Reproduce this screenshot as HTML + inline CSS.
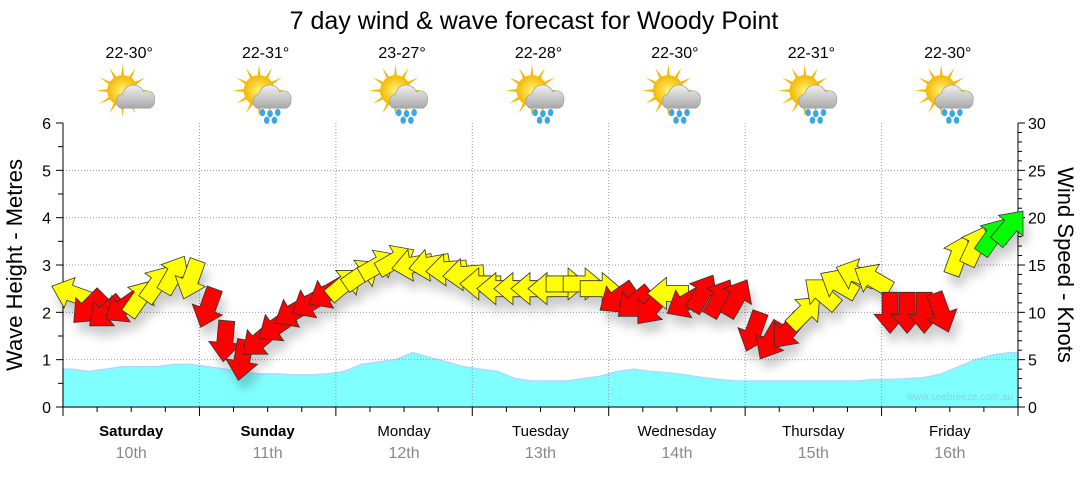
<!DOCTYPE html>
<html><head><meta charset="utf-8">
<style>
body{margin:0;background:#fff;font-family:"Liberation Sans",sans-serif;}
svg text{font-family:"Liberation Sans",sans-serif;}
</style></head>
<body>
<svg id="chart" width="1080" height="475" viewBox="0 0 1080 475">
<defs>
<radialGradient id="sun" cx="50%" cy="50%" r="50%"><stop offset="0" stop-color="#fff27a"/><stop offset="1" stop-color="#f5b800"/></radialGradient>
<linearGradient id="cloud" x1="0" y1="0" x2="0" y2="1"><stop offset="0" stop-color="#f0f0f0"/><stop offset="1" stop-color="#a8a8a8"/></linearGradient>
<filter id="shadow" x="-30%" y="-30%" width="160%" height="180%"><feGaussianBlur in="SourceAlpha" stdDeviation="5"/><feOffset dx="4" dy="10"/><feComponentTransfer><feFuncA type="linear" slope="0.2"/></feComponentTransfer><feMerge><feMergeNode/><feMergeNode in="SourceGraphic"/></feMerge></filter>
</defs>
<text x="534" y="29" font-size="25" text-anchor="middle" fill="#000">7 day wind &amp; wave forecast for Woody Point</text>
<g id="plot"></g>
</svg>
<script>
const days = ["Saturday","Sunday","Monday","Tuesday","Wednesday","Thursday","Friday"];
const dates = ["10th","11th","12th","13th","14th","15th","16th"];
const temps = ["22-30°","22-31°","23-27°","22-28°","22-30°","22-31°","22-30°"];
const rain = [false,true,true,true,true,true,true];
const waveHeights = [0.8,0.75,0.8,0.85,0.85,0.85,0.9,0.9, 0.85,0.8,0.75,0.7,0.7,0.68,0.68,0.7, 0.75,0.9,0.95,1.0,1.15,1.05,0.95,0.85, 0.8,0.75,0.6,0.55,0.55,0.55,0.6,0.65, 0.75,0.8,0.75,0.72,0.68,0.62,0.58,0.55, 0.55,0.55,0.55,0.55,0.55,0.55,0.55,0.58, 0.58,0.6,0.62,0.7,0.85,1.0,1.1,1.15];
const windSpeeds = [12,10.5,10,10.5,11.5,13,14,13.5, 10.5,7,5,7,8.5,10,11,12, 13,14,15,15.5,15,15,14.5,14, 13,12.5,12.5,12.5,12.5,13,13,12.5, 11.5,11,10.5,12,11,12,11.5,11.5, 8,7,8,10,12,13,14,13.5, 10,10,10,10,16,17,18,19];
const windDirs = [200,135,140,145,-55,-55,-60,110, 110,95,100,140,145,150,150,150, -40,-35,-30,-30,170,170,175,175, 180,180,180,180,180,0,0,0, 145,140,130,180,150,-60,-60,-60, 110,120,130,-45,-140,-150,-160,-150, 90,90,90,70,-70,-65,-55,-50];
const windColors = ["y","r","r","r","y","y","y","y", "r","r","r","r","r","r","r","r", "y","y","y","y","y","y","y","y", "y","y","y","y","y","y","y","y", "r","r","r","y","r","r","r","r", "r","r","r","y","y","y","y","y", "r","r","r","r","y","y","g","g"];
const waveTicks = [0,1,2,3,4,5,6];
const windTicks = [0,5,10,15,20,25,30];

const X0=63,X1=1018,Y0=407,Y1=123;
const dayW=(X1-X0)/7;
const xT = i => X0 + (i+0.5)*dayW/8;
const yWave = v => Y0 - v*(Y0-Y1)/6;
const yWind = v => Y0 - v*(Y0-Y1)/30;
const NS="http://www.w3.org/2000/svg";
const g=document.getElementById('plot');
function mk(tag,attrs,parent){const e=document.createElementNS(NS,tag);for(const k in attrs)e.setAttribute(k,attrs[k]);(parent||g).appendChild(e);return e;}

let d=`M${X0},${Y0} L${X0},${yWave(waveHeights[0])}`;
waveHeights.forEach((v,i)=>{d+=` L${xT(i)},${yWave(v)}`;});
d+=` L${X1},${yWave(waveHeights[waveHeights.length-1])} L${X1},${Y0} Z`;
const wa=mk('path',{d:d,fill:'#80ffff',stroke:'#b0d8ff','stroke-width':1.5});


const wm=mk('text',{x:1013,y:400,'font-size':10,'text-anchor':'end',fill:'#7fd6e0'});
wm.textContent='www.seabreeze.com.au';



waveTicks.forEach(t=>{ if(t>0&&t<6){const l=mk('line',{x1:X0,x2:X1,y1:yWave(t),y2:yWave(t),stroke:'#999','stroke-dasharray':'1,2'});

}});
for(let i=1;i<7;i++){const l=mk('line',{x1:X0+i*dayW,x2:X0+i*dayW,y1:Y1,y2:Y0,stroke:'#999','stroke-dasharray':'1,2'});

}

mk('line',{x1:X0,x2:X0,y1:Y1,y2:Y0,stroke:'#000'});
mk('line',{x1:X1,x2:X1,y1:Y1,y2:Y0,stroke:'#000'});
mk('line',{x1:X0,x2:X1,y1:Y0,y2:Y0,stroke:'#000'});
waveTicks.forEach(t=>{const y=yWave(t);mk('line',{x1:X0-7,x2:X0,y1:y,y2:y,stroke:'#000'});
const tx=mk('text',{x:X0-12,y:y+6,'font-size':16,'text-anchor':'end'});tx.textContent=t;

});
for(let t=0.5;t<6;t+=1){const y=yWave(t);mk('line',{x1:X0-5,x2:X0,y1:y,y2:y,stroke:'#000'});}
windTicks.forEach(t=>{const y=yWind(t);mk('line',{x1:X1,x2:X1+7,y1:y,y2:y,stroke:'#000'});
const tx=mk('text',{x:X1+10,y:y+6,'font-size':16});tx.textContent=t;

});
for(let t=1;t<30;t++){if(t%5){const y=yWind(t);mk('line',{x1:X1,x2:X1+4,y1:y,y2:y,stroke:'#000'});}}
for(let i=0;i<=28;i++){const x=X0+i*dayW/4;mk('line',{x1:x,x2:x,y1:Y0,y2:Y0+(i%4?5:9),stroke:'#000'});}

const yl=mk('text',{x:22,y:265,'font-size':22,'text-anchor':'middle',transform:'rotate(-90 22 265)'});yl.textContent='Wave Height - Metres';


const yr=mk('text',{x:1058,y:265,'font-size':22,'text-anchor':'middle',transform:'rotate(90 1058 265)'});yr.textContent='Wind Speed - Knots';



days.forEach((dn,i)=>{const cx=X0+(i+0.5)*dayW;
const t1=mk('text',{x:cx,y:436,'font-size':15,'text-anchor':'middle','font-weight':i<2?'bold':'normal'});t1.textContent=dn;


const t2=mk('text',{x:cx,y:458,'font-size':16,'text-anchor':'middle',fill:'#888'});t2.textContent=dates[i];


const t3=mk('text',{x:cx-2,y:58,'font-size':16,'text-anchor':'middle'});t3.textContent=temps[i];


const ic=mk('g',{transform:`translate(${cx-2},95) scale(1.1)`});


for(let a=0;a<360;a+=30){mk('polygon',{points:'-3,0 3,0 0,-24',fill:'#f5b800',transform:`translate(-6,-4) rotate(${a})`},ic);}
mk('circle',{cx:-6,cy:-4,r:14,fill:'url(#sun)'},ic);
mk('path',{d:'M-8,12 a7,7 0 0 1 2,-13 a10,10 0 0 1 19,-2 a7,7 0 0 1 10,8 a7,7 0 0 1 -4,7 Z',fill:'url(#cloud)',stroke:'#999','stroke-width':0.6},ic);
if(rain[i]){[[-3,16],[4,17],[11,16],[1,23],[8,23]].forEach(p=>mk('ellipse',{cx:p[0],cy:p[1],rx:2.5,ry:3.3,fill:'#3aa7e0'},ic));}
});

const cmap={r:'#ff0000',y:'#ffff00',g:'#00ff00'};
const ag=mk('g',{filter:'url(#shadow)'});


windSpeeds.forEach((s,i)=>{
 const a=mk('polygon',{points:'-20,-8 2,-8 2,-16 21,0 2,16 2,8 -20,8',fill:cmap[windColors[i]],stroke:'#333','stroke-width':0.8,
 transform:`translate(${xT(i)},${yWind(s)}) rotate(${windDirs[i]})`},ag);
 
 
});
</script>
</body></html>
